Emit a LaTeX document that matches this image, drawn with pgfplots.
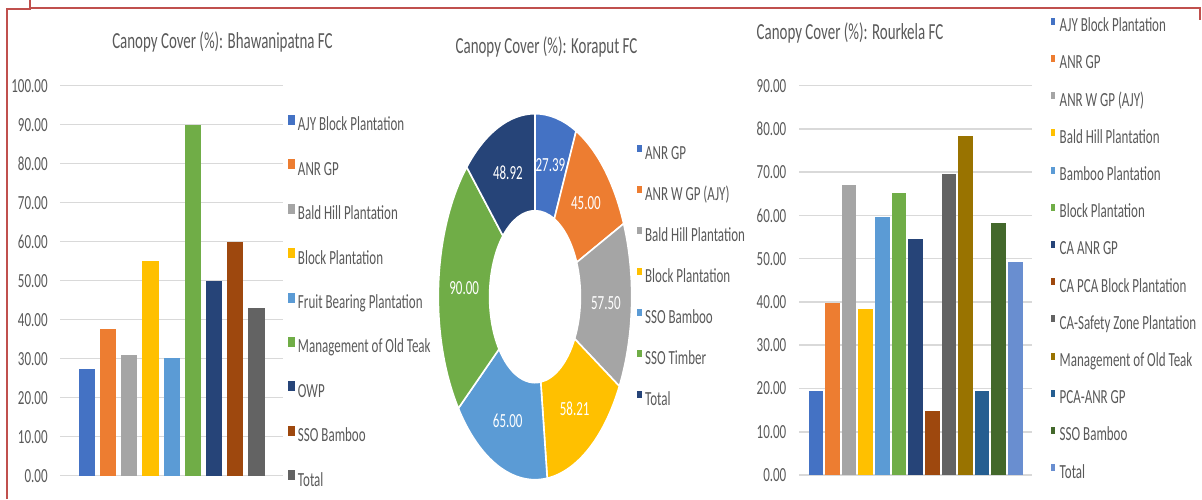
\documentclass[border=0pt]{standalone}
\usepackage{fontspec}
\setmainfont{Carlito}[FakeStretch=0.65]
\usepackage{pgfplots}
\pgfplotsset{compat=1.18}
\definecolor{cA}{HTML}{4472C4}
\definecolor{cB}{HTML}{ED7D31}
\definecolor{cC}{HTML}{A5A5A5}
\definecolor{cD}{HTML}{FFC000}
\definecolor{cE}{HTML}{5B9BD5}
\definecolor{cF}{HTML}{70AD47}
\definecolor{cG}{HTML}{264478}
\definecolor{cH}{HTML}{9E480E}
\definecolor{cI}{HTML}{636363}
\definecolor{cJ}{HTML}{997300}
\definecolor{cK}{HTML}{255E91}
\definecolor{cL}{HTML}{43682B}
\definecolor{cM}{HTML}{698ED0}
\definecolor{txtgray}{HTML}{595959}
\definecolor{gridgray}{HTML}{D9D9D9}
\definecolor{framered}{HTML}{C0504D}
\pgfplotsset{
  baraxis/.style={
    anchor=south west, scale only axis,
    ymin=0, xtick=\empty,
    axis line style={draw=none}, major tick length=0pt,
    ymajorgrids, grid style={gridgray, line width=0.75pt},
    yticklabel style={font=\fontsize{10}{12}\selectfont, text=txtgray, inner sep=0pt,
      /pgf/number format/fixed, /pgf/number format/fixed zerofill,
      /pgf/number format/precision=2, /pgf/number format/assume math mode=true},
    legend cell align=left,
    legend style={draw=none, fill=none, anchor=north west, inner sep=0pt, outer sep=0pt,
      font=\fontsize{10}{12}\selectfont, text=txtgray,
      nodes={inner sep=0pt, outer sep=0pt, text height=7pt, text depth=2pt}},
  },
  onebar/.style={ybar, draw=none, fill=#1},
}
\begin{document}
\begin{tikzpicture}
\useasboundingbox (0pt,0pt) rectangle (601pt,249.5pt);
% frame
\draw[framered, line width=1pt] (3.5pt,0pt) -- (3.5pt,245pt) -- (15pt,245pt) -- (15pt,249.5pt);
\draw[framered, line width=1pt] (15pt,245.4pt) -- (600.2pt,245.4pt) -- (600.2pt,239.5pt);

% ---------------- Left: Bhawanipatna ----------------
\begin{axis}[baraxis, at={(30pt,11.65pt)}, width=111.5pt, height=195pt,
  xmin=-1.27, xmax=9.25, ymax=100, ytick={0,10,...,100},
  yticklabel style={xshift=-6pt},
  legend style={at={(1.0224,0.925)}, row sep=12.2pt, column sep=1.5pt},
  legend image code/.code={\fill[#1] (0pt,0.5pt) rectangle (3.5pt,5.5pt);},
  bar width=0.77]
\addplot[onebar=cA] coordinates {(0,27.3)};
\addlegendentry{AJY Block Plantation}
\addplot[onebar=cB] coordinates {(1,37.5)};
\addlegendentry{ANR GP}
\addplot[onebar=cC] coordinates {(2,30.9)};
\addlegendentry{Bald Hill Plantation}
\addplot[onebar=cD] coordinates {(3,55.0)};
\addlegendentry{Block Plantation}
\addplot[onebar=cE] coordinates {(4,30.3)};
\addlegendentry{Fruit Bearing Plantation}
\addplot[onebar=cF] coordinates {(5,90.0)};
\addlegendentry{Management of Old Teak}
\addplot[onebar=cG] coordinates {(6,50.0)};
\addlegendentry{OWP}
\addplot[onebar=cH] coordinates {(7,59.8)};
\addlegendentry{SSO Bamboo}
\addplot[onebar=cI] coordinates {(8,43.1)};
\addlegendentry{Total}
\end{axis}
\node[anchor=base, text=txtgray, font=\fontsize{11.5}{13}\selectfont] at (111.25pt,225.35pt) {Canopy Cover (\%): Bhawanipatna FC};

% ---------------- Middle: Koraput donut ----------------
\begin{axis}[anchor=south west, scale only axis, at={(219.15pt,9.65pt)}, width=96.7pt, height=183pt,
  xmin=-1, xmax=1, ymin=-1, ymax=1, hide axis,
  legend cell align=left,
  legend style={draw=none, fill=none, anchor=north west, inner sep=0pt, outer sep=0pt,
    at={(1.026,0.9137)}, row sep=11.4pt, column sep=1.8pt,
    font=\fontsize{10}{12}\selectfont, text=txtgray,
    nodes={inner sep=0pt, outer sep=0pt, text height=7pt, text depth=2pt}},
  legend image code/.code={\fill[#1] (0pt,1pt) rectangle (2.4pt,4.6pt);}]
\addlegendimage{fill=cA, draw=none}\addlegendentry{ANR GP}
\addlegendimage{fill=cB, draw=none}\addlegendentry{ANR W GP (AJY)}
\addlegendimage{fill=cC, draw=none}\addlegendentry{Bald Hill Plantation}
\addlegendimage{fill=cD, draw=none}\addlegendentry{Block Plantation}
\addlegendimage{fill=cE, draw=none}\addlegendentry{SSO Bamboo}
\addlegendimage{fill=cF, draw=none}\addlegendentry{SSO Timber}
\addlegendimage{fill=cG, draw=none}\addlegendentry{Total}
\coordinate (dc) at (axis cs:0,0);
\end{axis}
\begin{scope}[shift={(dc)}]
\foreach \v/\c [remember=\b as \a (initially 0), evaluate=\b using \a+\v] in
  {27.39/cA, 45.00/cB, 57.50/cC, 58.21/cD, 65.00/cE, 90.00/cF, 48.92/cG}
{
  \pgfmathsetmacro\sa{90-\a/392.02*360}
  \pgfmathsetmacro\ea{90-\b/392.02*360}
  \pgfmathsetmacro\ma{(\sa+\ea)/2}
  \filldraw[fill=\c, draw=white, line width=0.8pt]
    (\sa:48.35pt and 91.5pt) arc[start angle=\sa, end angle=\ea, x radius=48.35pt, y radius=91.5pt]
    -- (\ea:22.7pt and 43pt) arc[start angle=\ea, end angle=\sa, x radius=22.7pt, y radius=43pt] -- cycle;
  \node[text=white, font=\fontsize{10}{12}\selectfont, inner sep=0pt] at (\ma:35.5pt and 67.3pt)
    {\pgfmathprintnumber[fixed, fixed zerofill, precision=2, assume math mode=true]{\v}};
}
\end{scope}
\node[anchor=base, text=txtgray, font=\fontsize{11.5}{13}\selectfont] at (273.25pt,222.85pt) {Canopy Cover (\%): Koraput FC};

% ---------------- Right: Rourkela ----------------
\begin{axis}[baraxis, at={(399.65pt,12pt)}, width=116.35pt, height=194.65pt,
  xmin=-1, xmax=13, ymax=90, ytick={0,10,...,90},
  yticklabel style={xshift=-6.3pt},
  legend style={at={(1.0804,1.1747)}, row sep=9.6pt, column sep=2.5pt},
  legend image code/.code={\fill[#1] (0pt,1pt) rectangle (2pt,4.5pt);},
  bar width=0.88]
\addplot[onebar=cA] coordinates {(0,19.4)};
\addlegendentry{AJY Block Plantation}
\addplot[onebar=cB] coordinates {(1,39.8)};
\addlegendentry{ANR GP}
\addplot[onebar=cC] coordinates {(2,67.0)};
\addlegendentry{ANR W GP (AJY)}
\addplot[onebar=cD] coordinates {(3,38.3)};
\addlegendentry{Bald Hill Plantation}
\addplot[onebar=cE] coordinates {(4,59.6)};
\addlegendentry{Bamboo Plantation}
\addplot[onebar=cF] coordinates {(5,65.3)};
\addlegendentry{Block Plantation}
\addplot[onebar=cG] coordinates {(6,54.5)};
\addlegendentry{CA ANR GP}
\addplot[onebar=cH] coordinates {(7,14.7)};
\addlegendentry{CA PCA Block Plantation}
\addplot[onebar=cI] coordinates {(8,69.6)};
\addlegendentry{CA-Safety Zone Plantation}
\addplot[onebar=cJ] coordinates {(9,78.4)};
\addlegendentry{Management of Old Teak}
\addplot[onebar=cK] coordinates {(10,19.4)};
\addlegendentry{PCA-ANR GP}
\addplot[onebar=cL] coordinates {(11,58.3)};
\addlegendentry{SSO Bamboo}
\addplot[onebar=cM] coordinates {(12,49.2)};
\addlegendentry{Total}
\end{axis}
\node[anchor=base, text=txtgray, font=\fontsize{11.5}{13}\selectfont] at (425pt,229.85pt) {Canopy Cover (\%): Rourkela FC};
\end{tikzpicture}
\end{document}
